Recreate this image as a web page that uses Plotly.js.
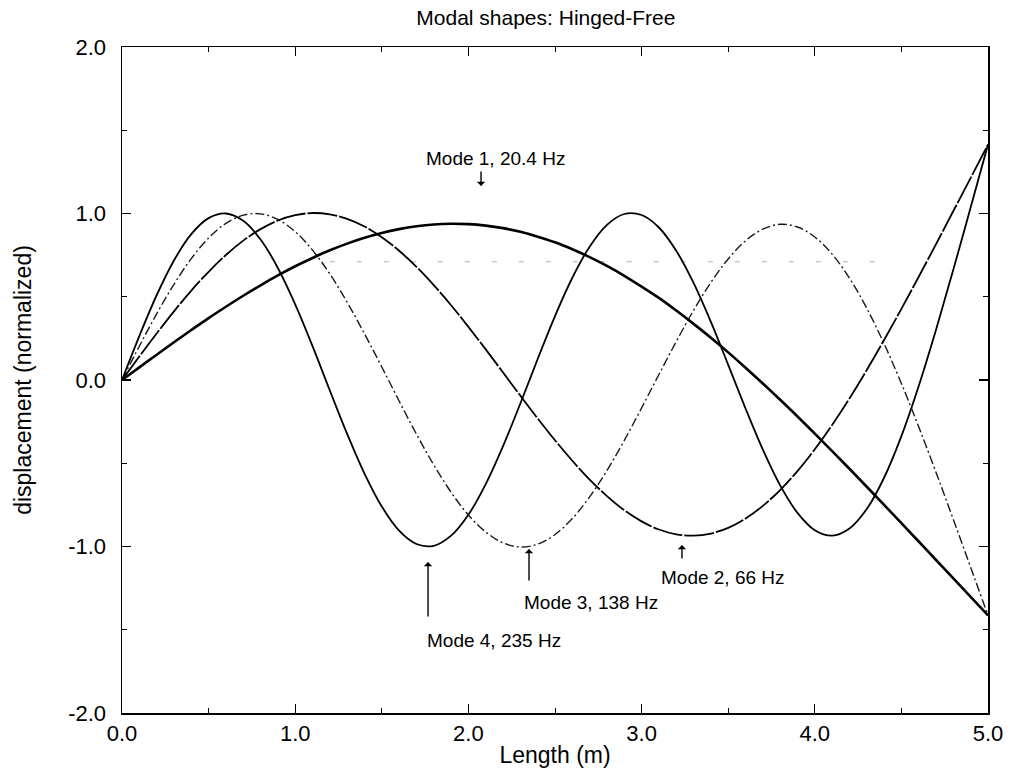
<!DOCTYPE html>
<html>
<head>
<meta charset="utf-8">
<script src="https://cdn.plot.ly/plotly-3.0.1.min.js"></script>
<style>html,body{margin:0;padding:0;background:#fff;}#chart{width:1009px;height:773px;}</style>
</head>
<body>
<div id="chart"></div>
<script>
// Positions along the beam (m)
var lengthM = [0.0,0.1,0.2,0.3,0.4,0.5,0.6,0.7,0.8,0.9,1.0,1.1,1.2,1.3,1.4,1.5,1.6,1.7,1.8,1.9,2.0,2.1,2.2,2.3,2.4,2.5,2.6,2.7,2.8,2.9,3.0,3.1,3.2,3.3,3.4,3.5,3.6,3.7,3.8,3.9,4.0,4.1,4.2,4.3,4.4,4.5,4.6,4.7,4.8,4.9,5.0];

// Normalized displacement
var mode1 = [0, 0.076, 0.152, 0.227, 0.300, 0.372, 0.440, 0.506, 0.569, 0.628, 0.683, 0.733, 0.779, 0.819, 0.854, 0.883, 0.906, 0.923, 0.934, 0.938, 0.936, 0.927, 0.912, 0.890, 0.861, 0.827, 0.785, 0.738, 0.685, 0.626, 0.561, 0.493, 0.417, 0.337, 0.254, 0.166, 0.074, -0.021, -0.119, -0.219, -0.322, -0.427, -0.533, -0.641, -0.750, -0.860, -0.970, -1.081, -1.192, -1.303, -1.414];
var mode2 = [0, 0.141, 0.279, 0.412, 0.537, 0.650, 0.751, 0.837, 0.906, 0.958, 0.990, 1.003, 0.995, 0.968, 0.922, 0.858, 0.776, 0.680, 0.570, 0.449, 0.319, 0.184, 0.045, -0.094, -0.231, -0.362, -0.485, -0.598, -0.697, -0.782, -0.849, -0.898, -0.927, -0.935, -0.922, -0.888, -0.832, -0.756, -0.661, -0.547, -0.416, -0.270, -0.111, 0.060, 0.240, 0.427, 0.620, 0.816, 1.015, 1.214, 1.414];
var mode3 = [0, 0.203, 0.397, 0.575, 0.729, 0.853, 0.941, 0.990, 0.998, 0.964, 0.891, 0.780, 0.637, 0.467, 0.278, 0.078, -0.126, -0.325, -0.510, -0.674, -0.811, -0.913, -0.978, -1.003, -0.986, -0.928, -0.832, -0.702, -0.544, -0.363, -0.168, 0.033, 0.231, 0.418, 0.586, 0.727, 0.836, 0.906, 0.935, 0.919, 0.859, 0.756, 0.612, 0.431, 0.218, -0.021, -0.281, -0.555, -0.838, -1.126, -1.414];
var mode4 = [0, 0.264, 0.509, 0.718, 0.876, 0.972, 1.000, 0.956, 0.844, 0.673, 0.454, 0.203, -0.063, -0.324, -0.562, -0.760, -0.905, -0.985, -0.996, -0.935, -0.809, -0.625, -0.397, -0.141, 0.126, 0.384, 0.614, 0.801, 0.932, 0.997, 0.991, 0.916, 0.776, 0.583, 0.349, 0.091, -0.171, -0.418, -0.633, -0.798, -0.902, -0.935, -0.892, -0.775, -0.587, -0.337, -0.036, 0.302, 0.663, 1.037, 1.414];

// Faint half-power reference line
var refX = [1.2, 4.4];
var refY = [0.71, 0.71];

// Labels
var modeLabels = ["Mode 1, 20.4 Hz", "Mode 2, 66 Hz", "Mode 3, 138 Hz", "Mode 4, 235 Hz"];
var labelX = [2.154, 3.47, 2.708, 2.148];
var labelY = [1.333, -1.189, -1.339, -1.562];
var arrowHeadX = [2.073, 3.233, 2.35, 1.767];
var arrowHeadY = [1.165, -0.991, -1.015, -1.093];
var arrowTailY = [1.261, -1.081, -1.213, -1.429];

var yTickVals = [-2, -1, 0, 1, 2];
var yTickText = ["-2.0", "-1.0", "0.0", "1.0", "2.0"];
var xTickVals = [0, 1, 2, 3, 4, 5];
var xTickText = ["0.0", "1.0", "2.0", "3.0", "4.0", "5.0"];

var FONT = "Liberation Sans, Arial, Helvetica, sans-serif";

var traces = [
  {x: refX, y: refY, mode: "lines", line: {color: "#b0b0b0", width: 1, dash: "5px,22px"}, hoverinfo: "skip"},
  {x: lengthM, y: mode4, mode: "lines", name: "Mode 4", line: {color: "#000", width: 1.8, shape: "spline", smoothing: 1}},
  {x: lengthM, y: mode3, mode: "lines", name: "Mode 3", line: {color: "#1a1a1a", width: 1.4, shape: "spline", smoothing: 1, dash: "9px,3px,2px,3px"}},
  {x: lengthM, y: mode2, mode: "lines", name: "Mode 2", line: {color: "#000", width: 1.8, shape: "spline", smoothing: 1, dash: "30px,2px"}},
  {x: lengthM, y: mode1, mode: "lines", name: "Mode 1", line: {color: "#000", width: 2.6, shape: "spline", smoothing: 1}}
];

var annotations = [];
for (var i = 0; i < modeLabels.length; i++) {
  annotations.push({
    x: labelX[i], y: labelY[i], xref: "x", yref: "y", text: modeLabels[i], showarrow: false,
    xanchor: "center", yanchor: "middle", font: {family: FONT, size: 19, color: "#000"}
  });
  annotations.push({
    x: arrowHeadX[i], y: arrowHeadY[i], xref: "x", yref: "y",
    ax: arrowHeadX[i], ay: arrowTailY[i], axref: "x", ayref: "y",
    text: "", showarrow: true, arrowhead: 1, arrowsize: 1, arrowwidth: 1.4, arrowcolor: "#000", standoff: 0, startstandoff: 0
  });
}

var axisCommon = {
  showgrid: false, zeroline: false, showline: true, linecolor: "#000", linewidth: 1.5,
  mirror: "ticks", ticks: "inside", ticklen: 9, tickwidth: 1.2, tickcolor: "#000",
  tickfont: {family: FONT, size: 22, color: "#000"},
  minor: {ticks: "inside", ticklen: 5, tickwidth: 1, tickcolor: "#000", tickmode: "linear", tick0: 0, dtick: 0.5}
};

var layout = {
  width: 1009, height: 773,
  margin: {l: 122, r: 21, t: 47, b: 60},
  paper_bgcolor: "#fff", plot_bgcolor: "#fff",
  showlegend: false,
  title: {text: "Modal shapes: Hinged-Free", font: {family: FONT, size: 21, color: "#000"},
          x: 0.541, xanchor: "center", y: 0.977, yanchor: "middle", xref: "container", yref: "container"},
  xaxis: Object.assign({}, axisCommon, {
    range: [0, 5], tickmode: "array", tickvals: xTickVals, ticktext: xTickText, ticklabelstandoff: 0,
    title: {text: "Length (m)", font: {family: FONT, size: 23, color: "#000"}, standoff: 2}
  }),
  yaxis: Object.assign({}, axisCommon, {
    range: [-2, 2], tickmode: "array", tickvals: yTickVals, ticktext: yTickText, ticklabelstandoff: 10,
    title: {text: "displacement (normalized)", font: {family: FONT, size: 23, color: "#000"}, standoff: 30}
  }),
  annotations: annotations
};

Plotly.newPlot("chart", traces, layout, {displayModeBar: false, staticPlot: true});
</script>
</body>
</html>
